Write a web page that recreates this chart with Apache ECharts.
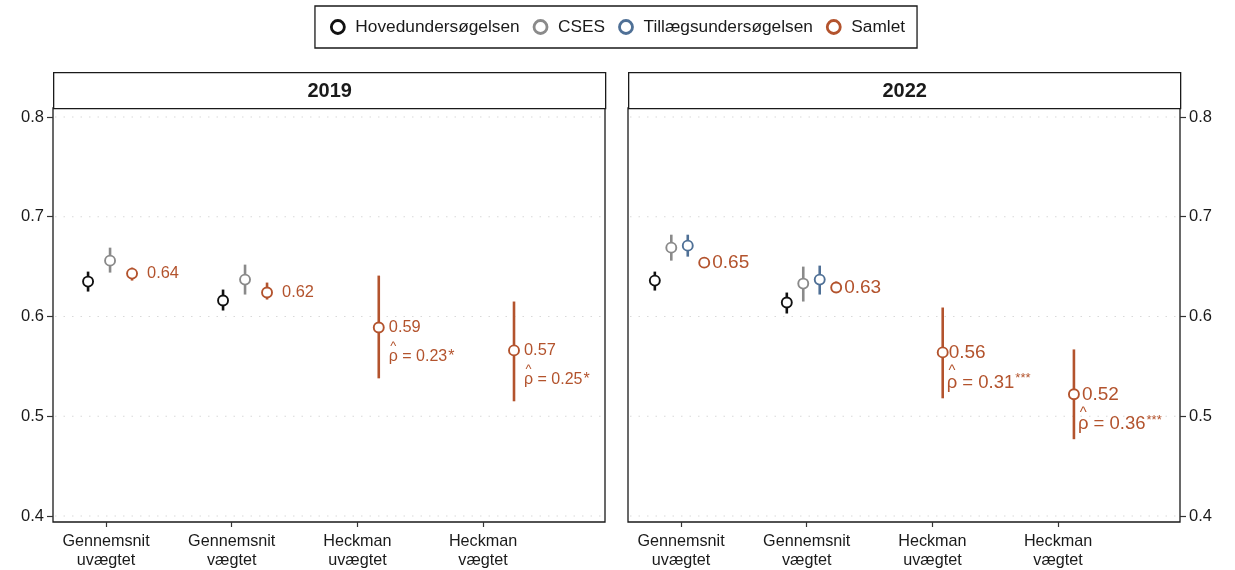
<!DOCTYPE html>
<html>
<head>
<meta charset="utf-8">
<script src="https://cdn.jsdelivr.net/npm/echarts@6/dist/echarts.min.js"></script>
<style>
  html, body { margin: 0; padding: 0; background: #fff; }
  #chart { width: 1235px; height: 570px; }
</style>
</head>
<body>
<div id="chart"></div>
<script>
// ---- data ---------------------------------------------------------------
const years = ['2019', '2022'];
const methods = ['Gennemsnit\nuvægtet', 'Gennemsnit\nvægtet', 'Heckman\nuvægtet', 'Heckman\nvægtet'];
const sources = ['Hovedundersøgelsen', 'CSES', 'Tillægsundersøgelsen', 'Samlet'];
const yTicks = [0.4, 0.5, 0.6, 0.7, 0.8];

// [estimate, lower, upper] per method; null where not estimated
const hoved2019   = [[0.635, 0.625, 0.645], [0.616, 0.606, 0.627], null, null];
const cses2019    = [[0.656, 0.644, 0.669], [0.637, 0.622, 0.652], null, null];
const tillaeg2019 = [null, null, null, null];
const samlet2019  = [[0.643, 0.636, 0.649], [0.624, 0.617, 0.634], [0.589, 0.538, 0.641], [0.566, 0.515, 0.615]];

const hoved2022   = [[0.636, 0.626, 0.645], [0.614, 0.603, 0.624], null, null];
const cses2022    = [[0.669, 0.656, 0.682], [0.633, 0.615, 0.650], null, null];
const tillaeg2022 = [[0.671, 0.660, 0.682], [0.637, 0.622, 0.651], null, null];
const samlet2022  = [[0.654, 0.651, 0.658], [0.629, 0.624, 0.635], [0.564, 0.518, 0.609], [0.522, 0.477, 0.567]];

// selection correlation for the Heckman models
const rho2019 = [null, null, 0.23, 0.25];
const rhoStars2019 = ['', '', '*', '*'];
const rho2022 = [null, null, 0.31, 0.36];
const rhoStars2022 = ['', '', '***', '***'];

// ---- layout & style -----------------------------------------------------
const FONT = '"Liberation Sans", Arial, sans-serif';
const colors = {
  'Hovedundersøgelsen': '#111111',
  'CSES': '#8a8a8a',
  'Tillægsundersøgelsen': '#4f7096',
  'Samlet': '#b3532d'
};
const panels = [
  { year: years[0], left: 53,  yPos: 'left',  data: [hoved2019, cses2019, tillaeg2019, samlet2019],
    rho: rho2019, stars: rhoStars2019, centre: [1.032, 2.106, 3.17, 4.246], step: 0.175,
    labelFont: 16.4, rhoFont: 16, starFont: 16, starRaise: 0,
    labelGap: [15, 15, 10, 10], rhoGap: 10, rhoDy: 29 },
  { year: years[1], left: 628, yPos: 'right', data: [hoved2022, cses2022, tillaeg2022, samlet2022],
    rho: rho2022, stars: rhoStars2022, centre: [0.988, 2.038, 3.082, 4.126], step: 0.131,
    labelFont: 19, rhoFont: 18.5, starFont: 13, starRaise: 4,
    labelGap: [8, 8, 6, 8], rhoGap: 4, rhoDy: 30 }
];
const PANEL_W = 552, PLOT_TOP = 108, PLOT_H = 415, STRIP_TOP = 72, STRIP_H = 36;
const X_MIN = 0.578, X_MAX = 4.97, Y_MIN = 0.394, Y_MAX = 0.809;

// text measuring for composing the rho-hat annotation
const measureCtx = document.createElement('canvas').getContext('2d');
function textWidth(str, size) {
  measureCtx.font = size + 'px ' + FONT;
  return measureCtx.measureText(str).width;
}

function rhoElements(x0, yc, p, mi, col) {
  const fs = p.rhoFont;
  const wRho = textWidth('ρ', fs);
  const rest = ' = ' + p.rho[mi].toFixed(2);
  const wRest = textWidth(rest, fs);
  const hatFs = fs * 0.8;
  return [
    { type: 'text', x: x0, y: yc,
      style: { text: 'ρ', fill: col, fontFamily: FONT, fontSize: fs, verticalAlign: 'middle', align: 'left' } },
    { type: 'text', x: x0 + wRho / 2, y: yc - fs * 0.6,
      style: { text: '^', fill: col, fontFamily: FONT, fontSize: hatFs, verticalAlign: 'middle', align: 'center' } },
    { type: 'text', x: x0 + wRho, y: yc,
      style: { text: rest, fill: col, fontFamily: FONT, fontSize: fs, verticalAlign: 'middle', align: 'left' } },
    { type: 'text', x: x0 + wRho + wRest + 1, y: yc - p.starRaise,
      style: { text: p.stars[mi], fill: col, fontFamily: FONT, fontSize: p.starFont, verticalAlign: 'middle', align: 'left' } }
  ];
}

const grids = [], xAxes = [], yAxes = [], series = [], graphics = [];

panels.forEach((p, pi) => {
  grids.push({ left: p.left, top: PLOT_TOP, width: PANEL_W, height: PLOT_H,
    show: true, borderColor: '#1a1a1a', borderWidth: 1.3, backgroundColor: '#fff' });

  xAxes.push({
    type: 'value', gridIndex: pi, min: X_MIN, max: X_MAX,
    axisLine: { show: false }, splitLine: { show: false },
    axisTick: { show: true, customValues: [1, 2, 3, 4], length: 5, lineStyle: { color: '#333', width: 1.2 } },
    axisLabel: { customValues: [1, 2, 3, 4], formatter: v => methods[Math.round(v) - 1],
      fontFamily: FONT, fontSize: 16.2, color: '#1a1a1a', lineHeight: 19, margin: 10 }
  });
  yAxes.push({
    type: 'value', gridIndex: pi, min: Y_MIN, max: Y_MAX, position: p.yPos,
    axisLine: { show: false }, splitLine: { show: false },
    axisTick: { show: true, customValues: yTicks, length: 6, lineStyle: { color: '#333', width: 1.2 } },
    axisLabel: { customValues: yTicks, formatter: v => v.toFixed(1),
      fontFamily: FONT, fontSize: 16.5, color: '#1a1a1a', margin: 9 }
  });

  // dotted horizontal guides at the major ticks
  series.push({
    type: 'custom', xAxisIndex: pi, yAxisIndex: pi, silent: true, z: 1,
    data: yTicks.map(v => [X_MIN, v]),
    renderItem: (params, api) => {
      const y = api.coord([X_MIN, api.value(1)])[1];
      const cs = params.coordSys;
      return { type: 'line', shape: { x1: cs.x + 2, y1: y, x2: cs.x + cs.width - 2, y2: y },
        style: { stroke: '#d9d9d9', lineWidth: 1.2, lineDash: [1.5, 7] } };
    }
  });

  // dodge: sources present for each method are spread evenly around the method's slot
  const present = methods.map((m, mi) => sources.filter((s, si) => p.data[si][mi]));

  sources.forEach((src, si) => {
    const rows = [];
    p.data[si].forEach((d, mi) => {
      if (!d) return;
      const list = present[mi];
      const k = list.indexOf(src);
      const x = p.centre[mi] + (k - (list.length - 1) / 2) * p.step;
      rows.push([x, d[0], d[1], d[2], mi]);
    });
    const col = colors[src];
    const isTotal = src === 'Samlet';
    series.push({
      name: src, type: 'custom', xAxisIndex: pi, yAxisIndex: pi, z: 5,
      itemStyle: { color: '#fff', borderColor: col, borderWidth: 3 },
      data: rows,
      renderItem: (params, api) => {
        const x = api.value(0), v = api.value(1), lo = api.value(2), hi = api.value(3);
        const mi = api.value(4);
        const c = api.coord([x, v]);
        const a = api.coord([x, lo]);
        const b = api.coord([x, hi]);
        let children = [
          { type: 'line', shape: { x1: c[0], y1: a[1], x2: c[0], y2: b[1] },
            style: { stroke: col, lineWidth: 2.6 } },
          { type: 'circle', shape: { cx: c[0], cy: c[1], r: 5 },
            style: { fill: '#fff', stroke: col, lineWidth: 1.9 } }
        ];
        if (isTotal) {
          children.push({ type: 'text', x: c[0] + p.labelGap[mi], y: c[1],
            style: { text: v.toFixed(2), fill: col, fontFamily: FONT, fontSize: p.labelFont,
              verticalAlign: 'middle', align: 'left' } });
          if (p.rho[mi] != null) {
            children = children.concat(rhoElements(c[0] + p.rhoGap, c[1] + p.rhoDy, p, mi, col));
          }
        }
        return { type: 'group', children };
      }
    });
  });

  // facet strip
  graphics.push({
    type: 'group', left: p.left, top: STRIP_TOP,
    children: [
      { type: 'rect', shape: { x: 0, y: 0, width: PANEL_W, height: STRIP_H },
        style: { fill: '#fff', stroke: '#1a1a1a', lineWidth: 1.3 } },
      { type: 'text', x: PANEL_W / 2, y: STRIP_H / 2 + 1,
        style: { text: p.year, fontFamily: FONT, fontSize: 20, fontWeight: 'bold', fill: '#1a1a1a',
          align: 'center', verticalAlign: 'middle' } }
    ]
  });
});

const chart = echarts.init(document.getElementById('chart'), null, { renderer: 'canvas' });
chart.setOption({
  animation: false,
  backgroundColor: '#fff',
  grid: grids, xAxis: xAxes, yAxis: yAxes, series,
  graphic: graphics,
  legend: {
    top: 6, left: 'center',
    data: sources.map(s => ({ name: s, icon: 'circle',
      itemStyle: { color: '#fff', borderColor: colors[s], borderWidth: 2.8 } })),
    itemWidth: 13, itemHeight: 13, itemGap: 13,
    padding: [12.5, 12, 12.5, 15],
    borderColor: '#1a1a1a', borderWidth: 1.3,
    textStyle: { fontFamily: FONT, fontSize: 17.3, color: '#1a1a1a', padding: [0, 0, 0, 6] },
    selectedMode: false
  }
});
</script>
</body>
</html>
